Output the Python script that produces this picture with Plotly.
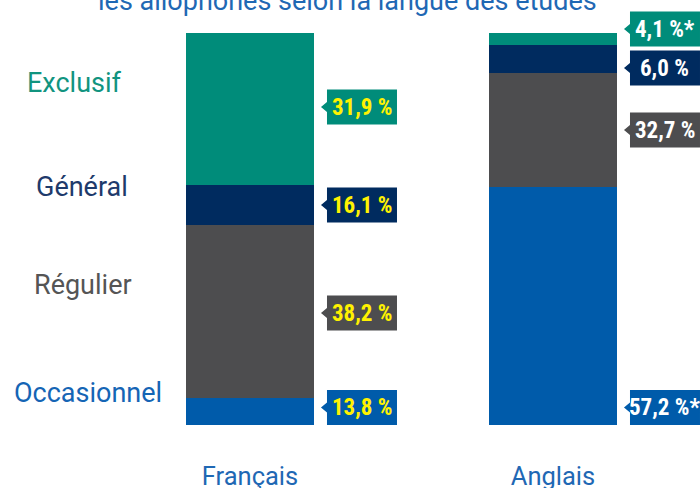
import plotly.graph_objects as go

# ---------------- data ----------------
categories = ["Français", "Anglais"]
segments = ["Occasionnel", "Régulier", "Général", "Exclusif"]
# bar heights as drawn (share of each bar, %)
occasionnel = [6.9, 60.7]
regulier = [44.1, 29.1]
general = [10.2, 7.1]
exclusif = [38.8, 3.1]
# value labels as printed
occasionnel_labels = ["13,8 %", "57,2 %*"]
regulier_labels = ["38,2 %", "32,7 %"]
general_labels = ["16,1 %", "6,0 %"]
exclusif_labels = ["31,9 %", "4,1 %*"]
title_text = "les allophones selon la langue des études"

# ---------------- styles ----------------
seg_colors = {"Occasionnel": "#005BAA", "Régulier": "#4D4D4F",
              "Général": "#002B5F", "Exclusif": "#008C7A"}
legend_text_colors = {"Occasionnel": "#1565B5", "Régulier": "#555555",
                      "Général": "#1E3A6B", "Exclusif": "#11947F"}
label_text_colors = ["#FFF200", "#FFFFFF"]  # per category
blue_text = "#1F68B4"
BAR_W = 0.4224
# pixel shifts of value label boxes (category, segment) -> px up
label_shift = {("Anglais", "Exclusif"): 10, ("Anglais", "Général"): -9,
               ("Français", "Exclusif"): 2, ("Français", "Régulier"): -1.5}
# left-hand legend placement (paper x, data y)
legend_pos = {"Exclusif": (74 / 700, 87.2), "Général": (82 / 700, 60.7),
              "Régulier": (83 / 700, 35.7), "Occasionnel": (88 / 700, 8.2)}

series = {"Occasionnel": occasionnel, "Régulier": regulier,
          "Général": general, "Exclusif": exclusif}
labels = {"Occasionnel": occasionnel_labels, "Régulier": regulier_labels,
          "Général": general_labels, "Exclusif": exclusif_labels}

xs = list(range(len(categories)))
fig = go.Figure()
for seg in segments:
    fig.add_trace(go.Bar(x=xs, y=series[seg], width=BAR_W, name=seg,
                         marker=dict(color=seg_colors[seg], line=dict(width=0)),
                         showlegend=False, hoverinfo="skip"))

shapes = []
annotations = []
label_font = "Liberation Sans Narrow, Roboto Condensed, Arial Narrow, Roboto, sans-serif"
for ci, cat in enumerate(categories):
    base = 0.0
    for seg in segments:
        v = series[seg][ci]
        if seg == "Occasionnel":
            anchor_y = base
            s = 17.5
        else:
            anchor_y = base + v / 2
            s = label_shift.get((cat, seg), 0)
        base += v
        ax = xs[ci] + BAR_W / 2
        path = (f"M 7 {s} L 13 {s+5} L 13 {s+17.5} L 83 {s+17.5} "
                f"L 83 {s-17.5} L 13 {s-17.5} L 13 {s-5} Z")
        shapes.append(dict(type="path", xref="x", yref="y",
                           xsizemode="pixel", ysizemode="pixel",
                           xanchor=ax, yanchor=anchor_y, path=path,
                           fillcolor=seg_colors[seg], line=dict(width=0)))
        annotations.append(dict(x=ax, y=anchor_y, xref="x", yref="y",
                                xshift=48, yshift=s, showarrow=False,
                                xanchor="center", yanchor="middle",
                                text=f"<b>{labels[seg][ci]}</b>",
                                font=dict(family=label_font, size=23,
                                          color=label_text_colors[ci])))

for seg in segments:
    px, py = legend_pos[seg]
    annotations.append(dict(x=px, y=py, xref="paper", yref="y",
                            showarrow=False, xanchor="center", yanchor="middle",
                            text=seg, font=dict(family="Roboto", size=27,
                                                color=legend_text_colors[seg])))

annotations.append(dict(x=347 / 700, y=1, xref="paper", yref="paper",
                        yshift=-1, showarrow=False, xanchor="center",
                        yanchor="middle", text=title_text,
                        font=dict(family="Roboto", size=27, color=blue_text)))

fig.update_layout(
    width=700, height=488, barmode="stack",
    margin=dict(l=0, r=0, t=0, b=63, autoexpand=False),
    paper_bgcolor="white", plot_bgcolor="white",
    shapes=shapes, annotations=annotations,
    xaxis=dict(range=[-250 / 303, -250 / 303 + 700 / 303], tickvals=xs,
               ticktext=categories, showgrid=False, zeroline=False,
               showline=False, ticks="", ticklabelstandoff=33,
               automargin=False,
               tickfont=dict(family="Roboto", size=25.5, color=blue_text)),
    yaxis=dict(range=[0, 100 + 33 / 3.92], visible=False, showgrid=False,
               automargin=False),
)
fig.write_html("out.html", config={"displayModeBar": False},
               post_script="document.body.style.margin='0';"
                           "document.body.style.overflow='hidden';")
